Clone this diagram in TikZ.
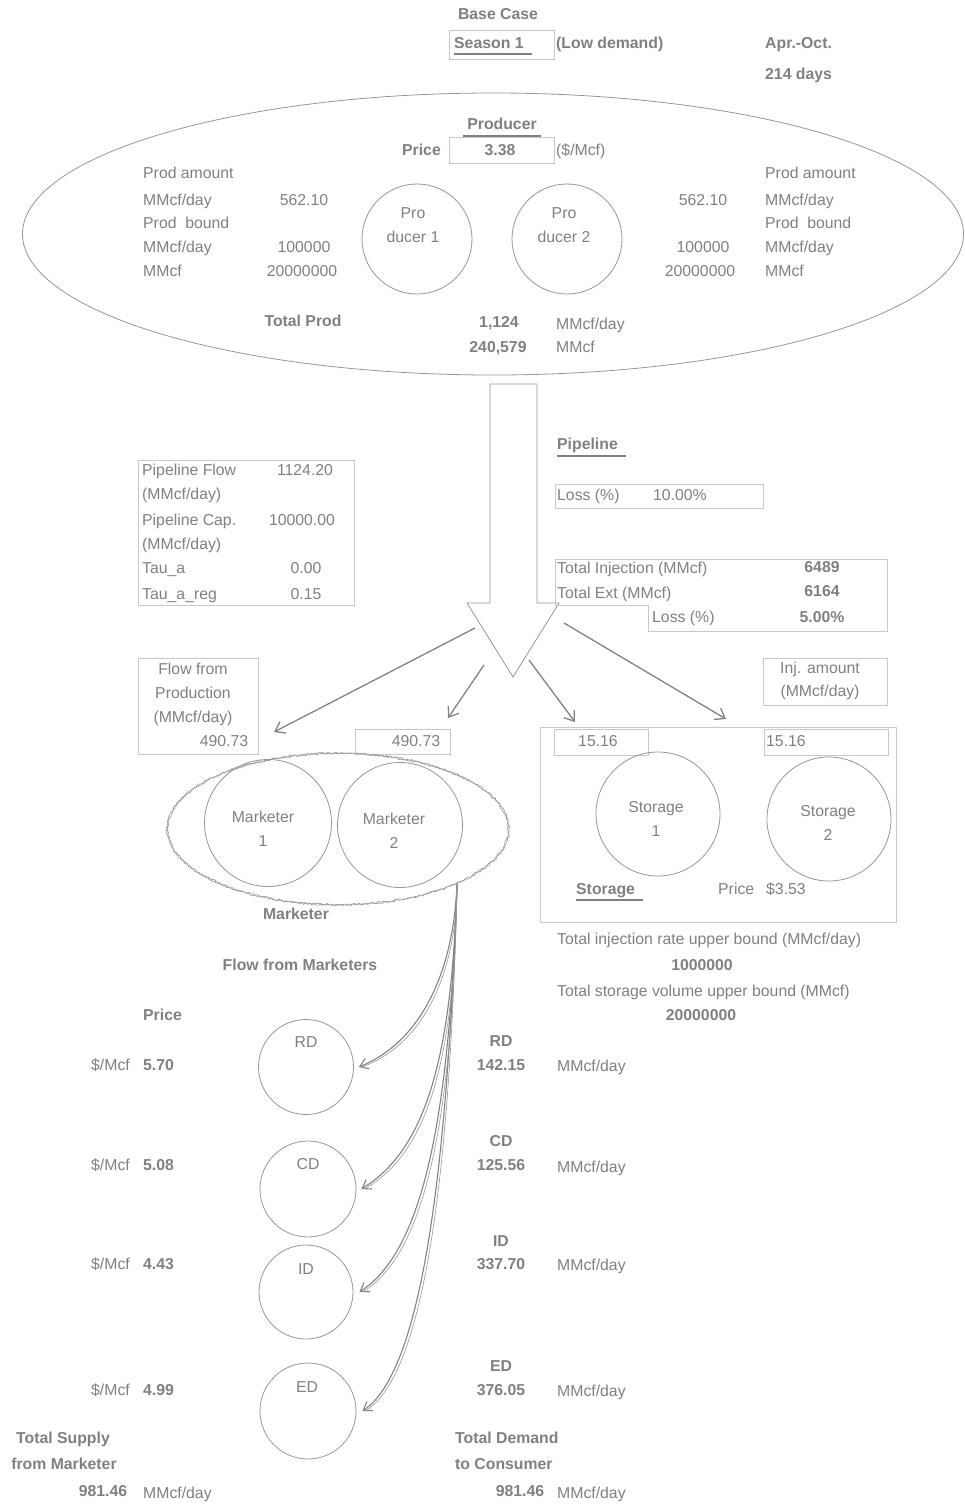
\documentclass[tikz,border=0pt]{standalone}
\usepackage{fontspec}
\setmainfont{Liberation Sans}
\usepackage{tikz}
\usetikzlibrary{shapes.geometric, arrows.meta, decorations.pathmorphing}
\definecolor{txtgray}{RGB}{128,128,128}
\definecolor{linegray}{RGB}{150,150,150}
\definecolor{boxgray}{RGB}{200,200,200}
\definecolor{arrowgray}{RGB}{130,130,130}
\tikzset{
	graytext/.style={font=\fontsize{15.8}{24}\selectfont\color{txtgray}, inner sep=0pt, text height=11.5pt, text depth=3pt}
}
\tikzset{
	boldtext/.style={graytext, font=\fontsize{15.8}{24}\selectfont\bfseries\color{txtgray}}
}
\tikzset{
	graylines/.style={font=\fontsize{15.8}{23.5}\selectfont\color{txtgray}, inner sep=0pt, align=center}
}
\tikzset{
	cellbox/.style={draw=boxgray, line width=0.8pt},
	ring/.style={draw=linegray, circle, line width=0.8pt, inner sep=0pt},
	uline/.style={draw=txtgray, line width=1.6pt},
	flowarrow/.style={draw=arrowgray, line width=1.3pt, -{Straight Barb[length=9pt, width=13pt]}},
	feedarrow/.style={draw=arrowgray, line width=1.1pt, -{Straight Barb[length=8pt, width=11pt]}},
	feedstrand/.style={draw=linegray, line width=0.6pt},
	fuzzy/.style={draw=linegray, line width=0.6pt, decorate, decoration={random steps, segment length=1.6pt, amplitude=0.9pt}}
}
\newcommand{\mcfd}{MMcf/day}

\begin{document}
\begin{tikzpicture}[x=1pt, y=-1pt]
  \useasboundingbox (0,0) rectangle (964,1510);
  \pgfmathsetseed{7}

  \node[boldtext] (base) at (498,15) {Base Case};
  \draw[cellbox] (449,30) rectangle (554,59);
  \node[boldtext, anchor=west] (season) at (454,44) {Season 1};
  \draw[uline] (454,54) -- (532,54);
  \node[boldtext, anchor=west] (lowdem) at (556,44) {(Low demand)};
  \node[boldtext, anchor=west] (months) at (765,44) {Apr.-Oct.};
  \node[boldtext, anchor=west] (days) at (765,75) {214 days};

  \node[draw=linegray, line width=0.8pt, ellipse, minimum width=941, minimum height=282] (prodzone) at (493,234) {};
  \node[boldtext] (prodtitle) at (502,125) {Producer};
  \draw[uline] (463,136) -- (541,136);
  \node[boldtext, anchor=east] (pricelab) at (441,151) {Price};
  \draw[cellbox] (449,137) rectangle (554,163);
  \node[boldtext] (priceval) at (500,151) {3.38};
  \node[graytext, anchor=west] (priceunit) at (556,151) {(\$/Mcf)};

  \node[graytext, anchor=west] (la1) at (143,174) {Prod amount};
  \node[graytext, anchor=west] (la2) at (143,201) {\mcfd};
  \node[graytext, anchor=west] (la3) at (143,224) {Prod\ \ bound};
  \node[graytext, anchor=west] (la4) at (143,248) {\mcfd};
  \node[graytext, anchor=west] (la5) at (143,272) {MMcf};
  \node[graytext] (lv1) at (304,201) {562.10};
  \node[graytext] (lv2) at (304,248) {100000};
  \node[graytext] (lv3) at (302,272) {20000000};
  \node[graytext] (rv1) at (703,201) {562.10};
  \node[graytext] (rv2) at (703,248) {100000};
  \node[graytext] (rv3) at (700,272) {20000000};
  \node[graytext, anchor=west] (ra1) at (765,174) {Prod amount};
  \node[graytext, anchor=west] (ra2) at (765,201) {\mcfd};
  \node[graytext, anchor=west] (ra3) at (765,224) {Prod\ \ bound};
  \node[graytext, anchor=west] (ra4) at (765,248) {\mcfd};
  \node[graytext, anchor=west] (ra5) at (765,272) {MMcf};

  \node[ring, minimum size=110] (p1) at (417,239) {};
  \node[ring, minimum size=110] (p2) at (567,239) {};
  \node[graylines] (p1txt) at (413,225) {Pro\\ducer 1};
  \node[graylines] (p2txt) at (564,225) {Pro\\ducer 2};

  \node[boldtext] (totprod) at (303,322) {Total Prod};
  \node[boldtext] (totday) at (499,323) {1,124};
  \node[boldtext] (totvol) at (498,348) {240,579};
  \node[graytext, anchor=west] (totdayu) at (556,325) {\mcfd};
  \node[graytext, anchor=west] (totvolu) at (556,348) {MMcf};

  \draw[draw=linegray, line width=0.8pt] (490,384) -- (537,384) -- (537,603) -- (559,603)
    -- (513,677) -- (467,603) -- (490,603) -- cycle;

  \node[boldtext, anchor=west] (pipetitle) at (557,445) {Pipeline};
  \draw[uline] (557,456) -- (626,456);
  \draw[cellbox] (555,484) rectangle (763,508);
  \node[graytext, anchor=west] (pipeloss) at (557,496) {Loss (\%)};
  \node[graytext, anchor=west] (pipelossv) at (653,496) {10.00\%};

  \draw[cellbox] (138,460) rectangle (354,605);
  \node[graytext, anchor=west] (pf1) at (142,471) {Pipeline Flow};
  \node[graytext, anchor=west] (pf2) at (142,495) {(\mcfd)};
  \node[graytext, anchor=west] (pc1) at (142,521) {Pipeline Cap.};
  \node[graytext, anchor=west] (pc2) at (142,545) {(\mcfd)};
  \node[graytext, anchor=west] (ta) at (142,569) {Tau\_a};
  \node[graytext, anchor=west] (tar) at (142,595) {Tau\_a\_reg};
  \node[graytext] (pfv) at (305,471) {1124.20};
  \node[graytext] (pcv) at (302,521) {10000.00};
  \node[graytext] (tav) at (306,569) {0.00};
  \node[graytext] (tarv) at (306,595) {0.15};

  \draw[cellbox] (555,605) -- (555,559) -- (887,559) -- (887,631) -- (648,631) -- (648,605) -- cycle;
  \node[graytext, anchor=west] (totinj) at (557,569) {Total Injection (MMcf)};
  \node[graytext, anchor=west] (totext) at (557,594) {Total Ext (MMcf)};
  \node[graytext, anchor=west] (stloss) at (652,618) {Loss (\%)};
  \node[boldtext] (totinjv) at (822,568) {6489};
  \node[boldtext] (totextv) at (822,592) {6164};
  \node[boldtext] (stlossv) at (822,618) {5.00\%};

  \coordinate (fa1) at (475,628);
  \coordinate (fb1) at (274,732);
  \coordinate (fa2) at (484,665);
  \coordinate (fb2) at (448,718);
  \coordinate (fa3) at (529,660);
  \coordinate (fb3) at (575,722);
  \coordinate (fa4) at (564,623);
  \coordinate (fb4) at (726,719);
  \draw[flowarrow] (fa1) -- (fb1);
  \draw[flowarrow] (fa2) -- (fb2);
  \draw[flowarrow] (fa3) -- (fb3);
  \draw[flowarrow] (fa4) -- (fb4);

  \draw[cellbox] (138,658) rectangle (258,754);
  \node[graylines] (flowprod) at (193,681) {Flow from\\Production};
  \node[graytext] (flowunit) at (193,718) {(\mcfd)};
  \node[graytext] (flowv1) at (224,742) {490.73};
  \draw[cellbox] (355,729) rectangle (450,754);
  \node[graytext] (flowv2) at (416,742) {490.73};

  \draw[cellbox] (763,658) rectangle (887,705);
  \node[graylines] (injamt) at (820,681) {Inj. amount\\(\mcfd)};

  \node[ellipse, minimum width=342, minimum height=153] (mkzone) at (338,829) {};
  \draw[fuzzy] (mkzone.center) ellipse [x radius=171, y radius=76];
  \draw[fuzzy] (mkzone.center) ellipse [x radius=170, y radius=75.5];
  \node[ring, minimum size=127] (m1) at (268,823) {};
  \node[ring, minimum size=125] (m2) at (400,825) {};
  \node[graylines] (m1txt) at (263,829) {Marketer\\1};
  \node[graylines] (m2txt) at (394,831) {Marketer\\2};
  \node[boldtext] (mktitle) at (296,915) {Marketer};

  \draw[cellbox] (540,727) rectangle (896,922);
  \draw[cellbox] (554,729) rectangle (648,755);
  \node[graytext] (inj1) at (598,742) {15.16};
  \draw[cellbox] (764,729) rectangle (888,755);
  \node[graytext, anchor=west] (inj2) at (766,742) {15.16};
  \node[ring, minimum size=124] (s1) at (658,814) {};
  \node[ring, minimum size=124] (s2) at (829,819) {};
  \node[graylines] (s1txt) at (656,819) {Storage\\1};
  \node[graylines] (s2txt) at (828,823) {Storage\\2};
  \node[boldtext, anchor=west] (sttitle) at (576,890) {Storage};
  \draw[uline] (576,900) -- (643,900);
  \node[graytext, anchor=west] (stprice) at (718,890) {Price};
  \node[graytext, anchor=west] (stpricev) at (766,890) {\$3.53};

  \node[graytext, anchor=west] (injub) at (557,940) {Total injection rate upper bound (\mcfd)};
  \node[boldtext] (injubv) at (702,966) {1000000};
  \node[graytext, anchor=west] (volub) at (557,992) {Total storage volume upper bound (MMcf)};
  \node[boldtext] (volubv) at (701,1016) {20000000};

  \node[boldtext] (flowmk) at (300,966) {Flow from Marketers};
  \node[boldtext, anchor=west] (pricehead) at (143,1016) {Price};

  \node[ring, minimum size=95] (rd) at (306,1067) {};
  \node[ring, minimum size=96] (cd) at (308,1189) {};
  \node[ring, minimum size=94] (id) at (306,1292) {};
  \node[ring, minimum size=96] (ed) at (308,1411) {};
  \node[graytext] (rdtxt) at (306,1043) {RD};
  \node[graytext] (cdtxt) at (308,1165) {CD};
  \node[graytext] (idtxt) at (306,1270) {ID};
  \node[graytext] (edtxt) at (307,1388) {ED};

  \node[graytext, anchor=east] (rdu) at (130,1066) {\$/Mcf};
  \node[graytext, anchor=east] (cdu) at (130,1166) {\$/Mcf};
  \node[graytext, anchor=east] (idu) at (130,1265) {\$/Mcf};
  \node[graytext, anchor=east] (edu) at (130,1391) {\$/Mcf};
  \node[boldtext, anchor=west] (rdp) at (143,1066) {5.70};
  \node[boldtext, anchor=west] (cdp) at (143,1166) {5.08};
  \node[boldtext, anchor=west] (idp) at (143,1265) {4.43};
  \node[boldtext, anchor=west] (edp) at (143,1391) {4.99};

  \node[boldtext] (rdname) at (501,1042) {RD};
  \node[boldtext] (rdq) at (501,1066) {142.15};
  \node[graytext, anchor=west] (rdqu) at (557,1067) {\mcfd};
  \node[boldtext] (cdname) at (501,1142) {CD};
  \node[boldtext] (cdq) at (501,1166) {125.56};
  \node[graytext, anchor=west] (cdqu) at (557,1168) {\mcfd};
  \node[boldtext] (idname) at (501,1242) {ID};
  \node[boldtext] (idq) at (501,1265) {337.70};
  \node[graytext, anchor=west] (idqu) at (557,1266) {\mcfd};
  \node[boldtext] (edname) at (501,1367) {ED};
  \node[boldtext] (edq) at (501,1391) {376.05};
  \node[graytext, anchor=west] (edqu) at (557,1392) {\mcfd};

  \coordinate (mkout) at (457,884);
  \draw[feedarrow] (mkout) .. controls (454,965) and (425,1040) .. ([xshift=5]rd.east);
  \draw[feedarrow] (mkout) .. controls (452,1060) and (425,1150) .. ([xshift=5]cd.east);
  \draw[feedarrow] (mkout) .. controls (450,1110) and (425,1250) .. ([xshift=6]id.east);
  \draw[feedarrow] (mkout) .. controls (448,1150) and (425,1370) .. ([xshift=6]ed.east);
  \draw[feedstrand] (mkout) .. controls (457,965) and (428,1043) .. ([xshift=8]rd.east);
  \draw[feedstrand] (mkout) .. controls (455,1060) and (428,1153) .. ([xshift=8]cd.east);
  \draw[feedstrand] (mkout) .. controls (453,1110) and (428,1253) .. ([xshift=9]id.east);
  \draw[feedstrand] (mkout) .. controls (451,1150) and (428,1373) .. ([xshift=9]ed.east);

  \node[boldtext] (supply1) at (63,1439) {Total Supply};
  \node[boldtext] (supply2) at (64,1465) {from Marketer};
  \node[boldtext] (supplyv) at (103,1492) {981.46};
  \node[graytext, anchor=west] (supplyu) at (143,1494) {\mcfd};
  \node[boldtext, anchor=west] (demand1) at (455,1439) {Total Demand};
  \node[boldtext, anchor=west] (demand2) at (455,1465) {to Consumer};
  \node[boldtext] (demandv) at (520,1492) {981.46};
  \node[graytext, anchor=west] (demandu) at (557,1494) {\mcfd};
\end{tikzpicture}
\end{document}
